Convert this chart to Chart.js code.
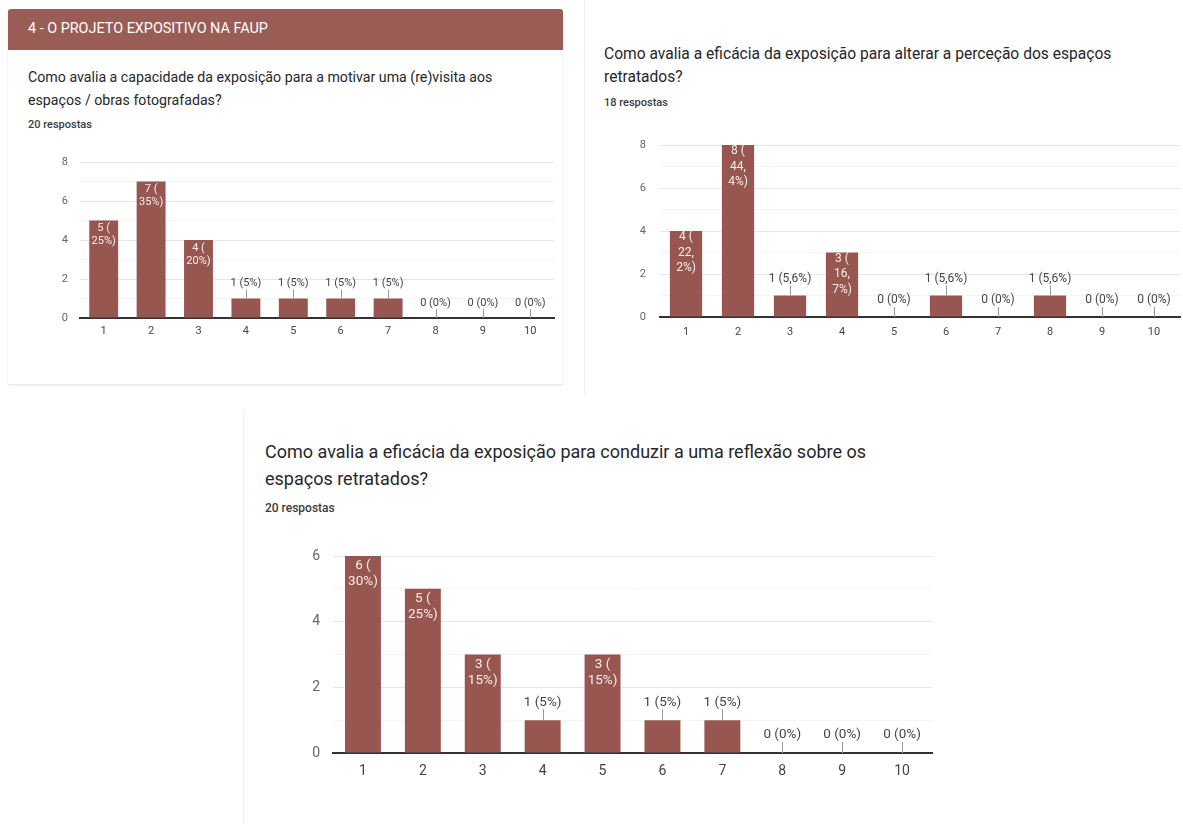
<!DOCTYPE html>
<html lang="pt">
<head>
<meta charset="utf-8">
<title>O projeto expositivo na FAUP</title>
<script src="https://cdn.jsdelivr.net/npm/chart.js@4.4.1/dist/chart.umd.min.js"></script>
<style>
    body { margin: 0; background: #fff; font-family: Roboto, 'Noto Sans', sans-serif; color: #202124; }
    #page { position: relative; width: 1183px; height: 824px; overflow: hidden; }
    .card1 { position: absolute; left: 8px; top: 9px; width: 555px; height: 375px; background: #fff;
             box-shadow: 0 1px 2px rgba(0,0,0,0.12); }
    .header { position: absolute; left: 8px; top: 9px; width: 555px; height: 41px; background: #995d56;
              border-radius: 3px 3px 0 0; }
    .header span { position: absolute; left: 20px; top: 11px; color: #fff; font-size: 14.4px; line-height: 17px; }
    .faint { position: absolute; background: #f1f1f1; }
    .title { position: absolute; color: #26272a; white-space: nowrap; }
    .count { position: absolute; font-size: 11px; font-weight: 500; color: #3c3c3c; line-height: 14px; }
    .plot { position: absolute; }
</style>
</head>
<body>
<div id="page">
    <div class="card1"></div>
    <div class="header"><span>4 - O PROJETO EXPOSITIVO NA FAUP</span></div>
    <div class="faint" style="left:584px; top:0; width:1px; height:395px;"></div>
    <div class="faint" style="left:243px; top:410px; width:1px; height:414px;"></div>

    <div class="title" style="left:28px; top:66px; font-size:14.2px; line-height:23px;">
        Como avalia a capacidade da exposição para a motivar uma (re)visita aos<br>espaços / obras fotografadas?
    </div>
    <div class="count" style="left:28px; top:118px;">20 respostas</div>

    <div class="title" style="left:604px; top:43px; font-size:15.6px; line-height:23px;">
        Como avalia a eficácia da exposição para alterar a perceção dos espaços<br>retratados?
    </div>
    <div class="count" style="left:604px; top:96px;">18 respostas</div>

    <div class="title" style="left:265px; top:438px; font-size:18px; line-height:27px;">
        Como avalia a eficácia da exposição para conduzir a uma reflexão sobre os<br>espaços retratados?
    </div>
    <div class="count" style="left:265px; top:501px; font-size:12px;">20 respostas</div>

    <canvas id="chart1" class="plot" width="520" height="200" style="left:40px; top:150px;"></canvas>
    <canvas id="chart2" class="plot" width="573" height="217" style="left:610px; top:133px;"></canvas>
    <canvas id="chart3" class="plot" width="670" height="250" style="left:280px; top:544px;"></canvas>
</div>

<script>
// escala de 1 a 10
const categories = ['1', '2', '3', '4', '5', '6', '7', '8', '9', '10'];

// (re)visita aos espaços / obras fotografadas - 20 respostas
const revisitCounts = [5, 7, 4, 1, 1, 1, 1, 0, 0, 0];
const revisitPercents = ['25%', '35%', '20%', '5%', '5%', '5%', '5%', '0%', '0%', '0%'];

// alterar a perceção dos espaços - 18 respostas
const perceptionCounts = [4, 8, 1, 3, 0, 1, 0, 1, 0, 0];
const perceptionPercents = ['22,2%', '44,4%', '5,6%', '16,7%', '0%', '5,6%', '0%', '5,6%', '0%', '0%'];

// reflexão sobre os espaços retratados - 20 respostas
const reflectionCounts = [6, 5, 3, 1, 3, 1, 1, 0, 0, 0];
const reflectionPercents = ['30%', '25%', '15%', '5%', '15%', '5%', '5%', '0%', '0%', '0%'];

const BAR_COLOR = '#97564f';

// Etiquetas ao estilo do Google Forms: dentro da barra quando cabe, senão por cima com um traço
const valueLabels = {
    id: 'valueLabels',
    afterDatasetsDraw(chart, args, opts) {
        const ctx = chart.ctx;
        const meta = chart.getDatasetMeta(0);
        const values = chart.data.datasets[0].data;
        ctx.save();
        ctx.font = opts.size + 'px Roboto, sans-serif';
        ctx.textAlign = 'center';
        ctx.textBaseline = 'middle';
        meta.data.forEach((bar, i) => {
            const v = values[i];
            const pct = opts.percents[i];
            if (v >= opts.insideMin) {
                const parts = pct.includes(',') ? [pct.split(',')[0] + ',', pct.split(',')[1] + ')'] : [pct + ')'];
                const lines = [v + ' ('].concat(parts);
                ctx.fillStyle = '#f6eeed';
                lines.forEach((line, k) => {
                    ctx.fillText(line, bar.x, bar.y + opts.insideTop + k * opts.lineHeight);
                });
            } else {
                ctx.strokeStyle = '#999';
                ctx.lineWidth = 1;
                ctx.beginPath();
                ctx.moveTo(Math.round(bar.x) + 0.5, bar.y - opts.stem);
                ctx.lineTo(Math.round(bar.x) + 0.5, bar.y);
                ctx.stroke();
                ctx.fillStyle = '#444';
                ctx.fillText(v + ' (' + pct + ')', bar.x, bar.y - opts.gap);
            }
        });
        ctx.restore();
    }
};

function buildChart(id, counts, percents, cfg) {
    const canvas = document.getElementById(id);
    return new Chart(canvas, {
        type: 'bar',
        data: {
            labels: categories,
            datasets: [{
                data: counts,
                backgroundColor: BAR_COLOR,
                borderWidth: 0,
                categoryPercentage: 1,
                barPercentage: cfg.barPct
            }]
        },
        options: {
            responsive: false,
            animation: false,
            devicePixelRatio: 1,
            layout: { padding: { top: 12, right: cfg.padRight, left: 0, bottom: 0 } },
            plugins: {
                legend: { display: false },
                tooltip: { enabled: false },
                valueLabels: {
                    percents: percents,
                    size: cfg.labelSize,
                    lineHeight: cfg.lineHeight,
                    insideTop: cfg.insideTop,
                    insideMin: 3,
                    gap: cfg.gap,
                    stem: cfg.stem
                }
            },
            scales: {
                x: {
                    grid: { display: false, drawTicks: false },
                    border: { color: '#333', width: 2 },
                    ticks: { color: '#444', padding: cfg.xPad, font: { family: 'Roboto', size: cfg.tickSize } },
                    afterFit: s => { s.height = cfg.xHeight; s.paddingLeft = 0; s.paddingRight = 0; }
                },
                y: {
                    min: 0,
                    max: cfg.max,
                    border: { display: false },
                    grid: {
                        drawTicks: false,
                        color: c => c.tick.value === 0 ? '#333' : (c.tick.value % 2 ? '#f4f4f4' : '#e6e6e6')
                    },
                    ticks: {
                        stepSize: 1,
                        color: '#666',
                        padding: cfg.yPad,
                        font: { family: 'Roboto', size: cfg.tickSize },
                        callback: v => (v % 2 === 0 ? v : '')
                    },
                    afterFit: s => { s.width = cfg.yWidth; s.paddingTop = 0; s.paddingBottom = 0; }
                }
            }
        },
        plugins: [valueLabels]
    });
}

buildChart('chart1', revisitCounts, revisitPercents, {
    max: 8, barPct: 0.61, padRight: 6, yWidth: 40, xHeight: 32, yPad: 12, xPad: 7,
    tickSize: 11, labelSize: 11, lineHeight: 13, insideTop: 8, gap: 15, stem: 9
});

buildChart('chart2', perceptionCounts, perceptionPercents, {
    max: 8, barPct: 0.62, padRight: 3, yWidth: 50, xHeight: 33, yPad: 14, xPad: 9,
    tickSize: 11, labelSize: 12, lineHeight: 15.5, insideTop: 6, gap: 17, stem: 10
});

buildChart('chart3', reflectionCounts, reflectionPercents, {
    max: 6, barPct: 0.6, padRight: 18, yWidth: 53, xHeight: 41, yPad: 13, xPad: 10,
    tickSize: 14, labelSize: 13.5, lineHeight: 16, insideTop: 10, gap: 18, stem: 11
});
</script>
</body>
</html>
